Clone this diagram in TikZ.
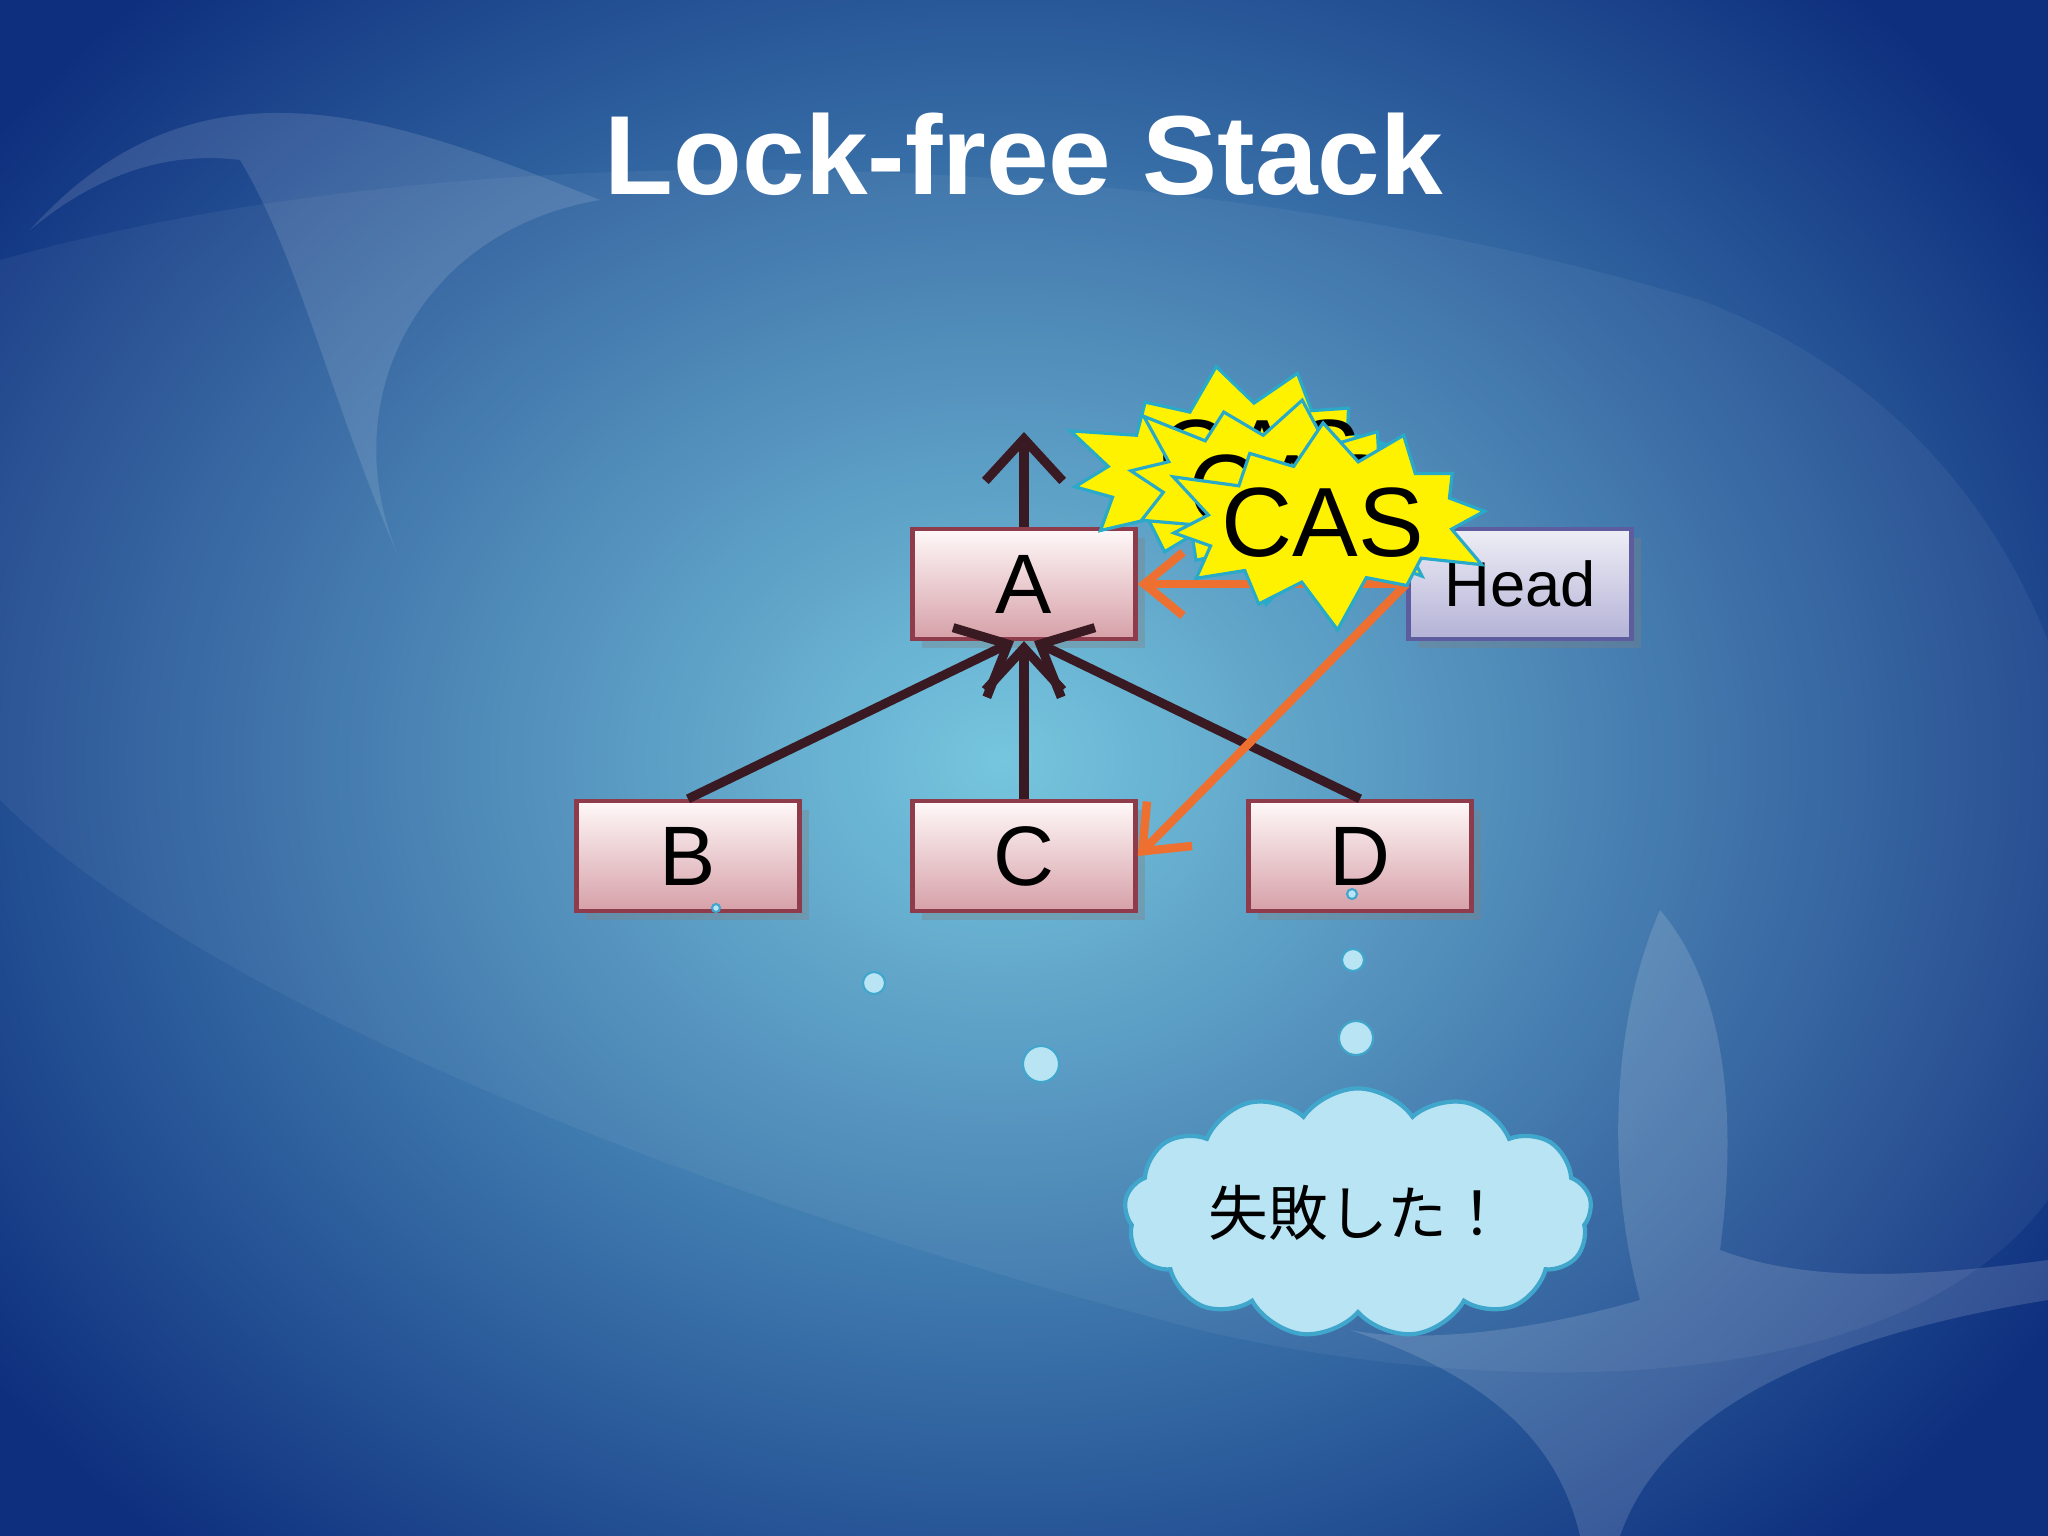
\documentclass[tikz,border=0pt]{standalone}
\usepackage{fontspec}
\setmainfont{Liberation Sans}
\newfontfamily\cjk{Noto Sans CJK JP}
\usetikzlibrary{arrows.meta,shapes.symbols,shapes.misc,shadows}
\definecolor{bgdark}{HTML}{0E2F7E}
\definecolor{bglight}{HTML}{6FC3DD}
\definecolor{edge}{HTML}{3A1A22}
\definecolor{orng}{HTML}{EE7030}
\definecolor{boxb}{HTML}{8E3C4C}
\definecolor{headb}{HTML}{5C5C9E}
\definecolor{bub}{HTML}{B8E4F4}
\definecolor{bubd}{HTML}{40A6CC}
\tikzset{
  nodebox/.style={rectangle,minimum width=2.23cm,minimum height=1.10cm,top color=white!90!pink,bottom color={rgb,255:red,214;green,160;blue,168},draw=boxb,line width=1.2pt,font=\fontsize{24}{24}\selectfont,inner sep=0pt,drop shadow={opacity=0.35}},
  headbox/.style={nodebox,top color={rgb,255:red,238;green,238;blue,246},bottom color={rgb,255:red,180;green,178;blue,214},draw=headb,font=\fontsize{18}{18}\selectfont},
  tree/.style={draw=edge,line width=2.6pt,-{Straight Barb[length=12pt,width=22pt,line width=2.6pt]}},
  ptr/.style={draw=orng,line width=2.4pt,-{Straight Barb[length=11pt,width=18pt,line width=2.4pt]}},
  burst/.style={starburst,starburst points=12,starburst point height=0.55cm,fill=yellow,draw={rgb,255:red,40;green,170;blue,200},line width=0.9pt,minimum width=3.6cm,minimum height=2.3cm,inner sep=0pt},
  cas/.style={font=\fontsize{28}{28}\selectfont},
  dot/.style={circle,fill=bub,draw=bubd,line width=0.6pt,inner sep=0pt}
}
\begin{document}
\begin{tikzpicture}[x=0.01cm,y=-0.01cm]
\useasboundingbox (0,0) rectangle (2048,1536);
\fill[bgdark] (0,0) rectangle (2048,1536);
\begin{scope}
\clip (0,0) rectangle (2048,1536);
\shade[inner color=bglight,outer color=bgdark] (1000,760) ellipse (1250 and 1050);
\fill[white,opacity=0.12] (30,230) .. controls (200,40) and (400,120) .. (600,200) .. controls (420,230) and (330,400) .. (400,560) .. controls (330,400) and (300,260) .. (240,160) .. controls (160,150) and (90,180) .. (30,230) -- cycle;
\fill[white,opacity=0.05] (0,260) .. controls (500,120) and (1200,150) .. (1700,300) .. controls (2100,450) and (2150,900) .. (2048,1100) -- (2048,1200) .. controls (1900,1400) and (1500,1400) .. (1200,1330) .. controls (700,1200) and (200,1000) .. (0,800) -- cycle;
\fill[white,opacity=0.14] (1660,910) .. controls (1620,1000) and (1600,1150) .. (1640,1300) .. controls (1500,1340) and (1400,1340) .. (1350,1330) .. controls (1500,1380) and (1560,1450) .. (1580,1536) -- (1620,1536) .. controls (1660,1420) and (1800,1340) .. (2048,1300) -- (2048,1260) .. controls (1900,1280) and (1800,1280) .. (1720,1250) .. controls (1740,1100) and (1720,980) .. (1660,910) -- cycle;
\end{scope}

\node[font=\bfseries\fontsize{32}{32}\selectfont,white] (title) at (1024,154) {Lock-free Stack};

\node[nodebox] (A) at (1024,584) {A};
\node[nodebox] (B) at (688,856) {B};
\node[nodebox] (C) at (1024,856) {C};
\node[nodebox] (D) at (1360,856) {D};
\node[headbox] (H) at (1520,584) {Head};

\coordinate (top) at (1024,432);
\draw[tree] (A.north) -- (top);
\draw[tree] (B.north) -- ([xshift=-0.1cm]A.south);
\draw[tree] (C.north) -- (A.south);
\draw[tree] (D.north) -- ([xshift=0.1cm]A.south);

\draw[ptr] (H.west) -- (A.east);
\draw[ptr] (H.west) -- (C.east);

\node[burst,rotate=8] (b1) at (1230,465) {};
\node[cas] (t1) at (1260,455) {CAS};
\node[burst,rotate=-10] (b2) at (1285,498) {};
\node[cas] (t2) at (1290,490) {CAS};
\node[burst,rotate=4] (b3) at (1330,522) {};
\node[cas] (t3) at (1323,523) {CAS};

\node[dot,minimum size=0.08cm] (d1) at (716,908) {};
\node[dot,minimum size=0.22cm] (d2) at (874,983) {};
\node[dot,minimum size=0.36cm] (d3) at (1041,1064) {};
\node[dot,minimum size=0.10cm] (d4) at (1352,894) {};
\node[dot,minimum size=0.22cm] (d5) at (1353,960) {};
\node[dot,minimum size=0.34cm] (d6) at (1356,1038) {};

\node[cloud,cloud puffs=13,cloud puff arc=110,aspect=2.3,minimum width=4.4cm,minimum height=2.0cm,fill=bub,draw=bubd,line width=1.2pt,font=\cjk\fontsize{17}{17}\selectfont] (cl) at (1358,1213) {失敗した！};
\end{tikzpicture}
\end{document}
